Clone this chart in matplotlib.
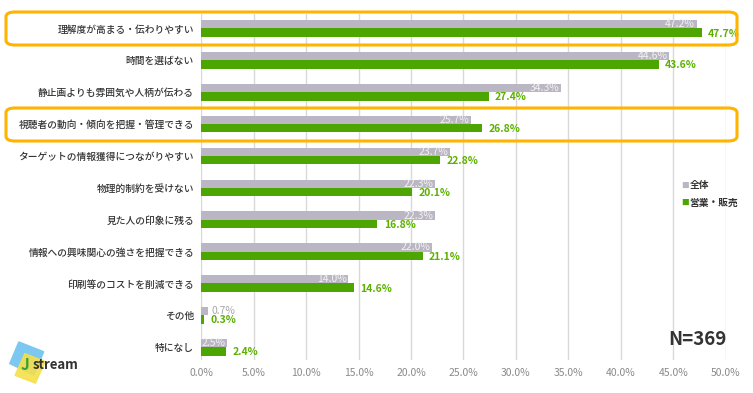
import matplotlib.pyplot as plt
from matplotlib.patches import FancyBboxPatch, Polygon
import numpy as np

plt.rcParams['font.family'] = ['Noto Sans CJK JP', 'DejaVu Sans']

# データ
categories = [
    "理解度が高まる・伝わりやすい",
    "時間を選ばない",
    "静止画よりも雰囲気や人柄が伝わる",
    "視聴者の動向・傾向を把握・管理できる",
    "ターゲットの情報獲得につながりやすい",
    "物理的制約を受けない",
    "見た人の印象に残る",
    "情報への興味関心の強さを把握できる",
    "印刷等のコストを削減できる",
    "その他",
    "特になし",
]
zentai = [47.2, 44.6, 34.3, 25.7, 23.7, 22.3, 22.3, 22.0, 14.0, 0.7, 2.5]
eigyo = [47.7, 43.6, 27.4, 26.8, 22.8, 20.1, 16.8, 21.1, 14.6, 0.3, 2.4]
xticks = [0, 5, 10, 15, 20, 25, 30, 35, 40, 45, 50]
highlight = [0, 3]

gray = "#BAB6C3"
green = "#4CA500"
green_txt = "#5BB000"
orange = "#FFB400"

fig = plt.figure(figsize=(7.53, 3.93), dpi=100)
ax = fig.add_axes([0.267, 0.084, 0.697, 0.880])

y = np.arange(len(categories))
h = 0.26
ax.barh(y - h / 2, zentai, height=h, color=gray, zorder=2)
ax.barh(y + h / 2, eigyo, height=h, color=green, zorder=2)

# ラベル
for i in range(len(categories)):
    if zentai[i] >= 2:
        ax.text(zentai[i] - 0.15, y[i] - h / 2, f"{zentai[i]:.1f}%", ha="right", va="center",
                fontsize=7.5, color="#F2F2F2", zorder=3)
    else:
        ax.text(zentai[i] + 0.3, y[i] - h / 2, f"{zentai[i]:.1f}%", ha="left", va="center",
                fontsize=7.5, color="#A8A8A8", zorder=3)
    ax.text(eigyo[i] + 0.6, y[i] + h / 2 + 0.03, f"{eigyo[i]:.1f}%", ha="left", va="center",
            fontsize=7.5, color=green_txt, fontweight="bold", zorder=3)

ax.set_xlim(0, 50)
ax.set_ylim(10.4, -0.45)
ax.set_xticks(xticks)
ax.set_xticklabels([f"{v:.1f}%" for v in xticks], color="#8A8A8A", fontsize=7.5)
ax.set_yticks(y)
ax.set_yticklabels(categories, fontsize=7, color="#333333", fontweight="medium")
ax.tick_params(length=0, pad=5)
ax.tick_params(axis="x", pad=6)
ax.grid(axis="x", color="#D9D9D9", linewidth=1, zorder=0)
for s in ax.spines.values():
    s.set_visible(False)

# 強調枠
for r in highlight:
    box = FancyBboxPatch((6 / 753, 1 - (45 + 32 * r) / 393), 731 / 753, 33 / 393,
                         boxstyle="round,pad=0,rounding_size=0.012",
                         transform=fig.transFigure, fill=False, edgecolor=orange,
                         linewidth=2.2, zorder=5)
    fig.patches.append(box)

# 凡例
fig.text(0.905, 0.528, "■", color=gray, fontsize=5.5, va="center")
fig.text(0.916, 0.528, "全体", color="#333333", fontsize=7, va="center", fontweight="bold")
fig.text(0.905, 0.485, "■", color=green, fontsize=5.5, va="center")
fig.text(0.916, 0.485, "営業・販売", color="#333333", fontsize=7, va="center", fontweight="bold")

fig.text(0.888, 0.135, "N=369", fontsize=13.5, fontweight="bold", color="#333333", va="center")

# ロゴ
fig.patches.append(Polygon([[0.013, 0.075], [0.045, 0.045], [0.058, 0.105], [0.025, 0.13]],
                           closed=True, transform=fig.transFigure, color="#7DC8F0", zorder=1))
fig.patches.append(Polygon([[0.02, 0.045], [0.047, 0.025], [0.06, 0.08], [0.033, 0.10]],
                           closed=True, transform=fig.transFigure, color="#F5E04A", zorder=1, alpha=0.9))
fig.text(0.028, 0.072, "J", fontsize=11, fontweight="bold", color="#3A9E3A", va="center")
fig.text(0.044, 0.072, "stream", fontsize=9.5, color="#333333", va="center", fontweight="bold")

plt.savefig("out.png", dpi=100)
